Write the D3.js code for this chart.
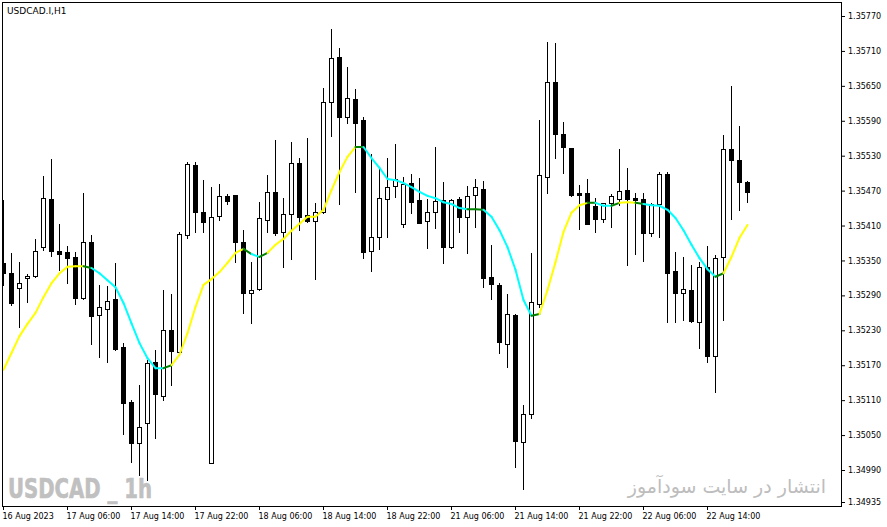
<!DOCTYPE html>
<html>
<head>
<meta charset="utf-8">
<script src="https://cdn.jsdelivr.net/npm/d3@7.9.0/dist/d3.min.js"></script>
<style>
  html, body { margin: 0; padding: 0; background: #fff; }
  svg { display: block; }
  .axis text { font-family: "DejaVu Sans", sans-serif; font-size: 8px; fill: #000; }
  .axis line { stroke: #000; }
</style>
</head>
<body>
<svg id="chart" width="887" height="527"></svg>
<script>
// H1 candles, 16 Aug 2023 22:00 -> 22 Aug 2023 19:00
const open = [
  1.35346,1.35328,1.35303,1.35320,1.35323,1.35373,1.35456,1.35366,1.35365,1.35356,
  1.35286,1.35382,1.35256,1.35267,1.35284,1.35201,1.35107,1.35036,1.35071,1.35176,
  1.35117,1.35230,1.35193,1.35394,1.35514,1.35433,1.35002,1.35426,1.35461,1.35462,
  1.35382,1.35294,1.35301,1.35420,1.35468,1.35399,1.35430,1.35517,1.35428,1.35418,
  1.35433,1.35622,1.35700,1.35597,1.35627,1.35591,1.35366,1.35390,1.35456,1.35478,
  1.35413,1.35483,1.35454,1.35418,1.35433,1.35454,1.35373,1.35456,1.35425,1.35462,
  1.35473,1.35322,1.35308,1.35206,1.35256,1.35038,1.35086,1.35275,1.35493,1.35657,
  1.35567,1.35543,1.35466,1.35466,1.35444,1.35421,1.35449,1.35456,1.35471,1.35457,
  1.35456,1.35397,1.35447,1.35499,1.35332,1.35294,1.35299,1.35244,1.35339,1.35186,
  1.35356,1.35542,1.35523,1.35485
];
const high = [
  1.35454,1.35363,1.35347,1.35327,1.35387,1.35495,1.35524,1.35413,1.35375,1.35365,
  1.35466,1.35394,1.35308,1.35306,1.35346,1.35208,1.35110,1.35136,1.35179,1.35196,
  1.35299,1.35292,1.35399,1.35519,1.35519,1.35488,1.35476,1.35481,1.35464,1.35462,
  1.35402,1.35347,1.35450,1.35497,1.35557,1.35457,1.35554,1.35526,1.35560,1.35449,
  1.35646,1.35748,1.35715,1.35682,1.35645,1.35597,1.35533,1.35511,1.35526,1.35550,
  1.35493,1.35499,1.35492,1.35456,1.35545,1.35485,1.35456,1.35459,1.35478,1.35490,
  1.35487,1.35377,1.35312,1.35292,1.35258,1.35102,1.35363,1.35591,1.35725,1.35724,
  1.35588,1.35543,1.35480,1.35490,1.35457,1.35449,1.35464,1.35542,1.35509,1.35466,
  1.35466,1.35449,1.35502,1.35502,1.35365,1.35356,1.35342,1.35347,1.35375,1.35359,
  1.35566,1.35650,1.35581,1.35487
];
const low = [
  1.35308,1.35273,1.35236,1.35279,1.35322,1.35368,1.35358,1.35334,1.35312,1.35275,
  1.35284,1.35206,1.35184,1.35176,1.35196,1.35052,1.35004,1.34981,1.34973,1.35045,
  1.35110,1.35136,1.35188,1.35389,1.35399,1.35399,1.35002,1.35420,1.35447,1.35347,
  1.35260,1.35242,1.35299,1.35399,1.35394,1.35339,1.35353,1.35402,1.35416,1.35318,
  1.35432,1.35564,1.35447,1.35586,1.35468,1.35354,1.35332,1.35370,1.35390,1.35459,
  1.35408,1.35432,1.35414,1.35371,1.35406,1.35346,1.35371,1.35399,1.35363,1.35408,
  1.35304,1.35284,1.35191,1.35167,1.34995,1.34957,1.35079,1.35270,1.35466,1.35526,
  1.35500,1.35461,1.35404,1.35413,1.35399,1.35416,1.35408,1.35445,1.35342,1.35361,
  1.35349,1.35392,1.35390,1.35244,1.35244,1.35248,1.35244,1.35200,1.35176,1.35124,
  1.35248,1.35421,1.35437,1.35450
];
const close = [
  1.35328,1.35277,1.35311,1.35323,1.35366,1.35457,1.35366,1.35361,1.35354,1.35286,
  1.35382,1.35255,1.35270,1.35280,1.35198,1.35105,1.35036,1.35064,1.35174,1.35121,
  1.35230,1.35194,1.35395,1.35516,1.35433,1.35416,1.35425,1.35461,1.35452,1.35382,
  1.35294,1.35299,1.35423,1.35468,1.35397,1.35430,1.35517,1.35425,1.35418,1.35433,
  1.35622,1.35698,1.35597,1.35629,1.35586,1.35365,1.35390,1.35457,1.35476,1.35490,
  1.35481,1.35450,1.35414,1.35433,1.35452,1.35373,1.35454,1.35425,1.35461,1.35476,
  1.35320,1.35310,1.35210,1.35258,1.35040,1.35086,1.35279,1.35497,1.35657,1.35567,
  1.35545,1.35462,1.35462,1.35413,1.35421,1.35449,1.35461,1.35469,1.35456,1.35454,
  1.35397,1.35447,1.35499,1.35328,1.35294,1.35301,1.35246,1.35339,1.35186,1.35354,
  1.35542,1.35523,1.35485,1.35468
];

// moving average line, and its colour state per segment (u = rising, d = falling, f = flat)
const ma = [
  1.35162,1.35191,1.35220,1.35241,1.35260,1.35287,1.35311,1.35328,1.35339,1.35340,
  1.35340,1.35337,1.35328,1.35316,1.35304,1.35277,1.35242,1.35208,1.35182,1.35165,
  1.35165,1.35170,1.35188,1.35225,1.35270,1.35308,1.35318,1.35330,1.35346,1.35363,
  1.35370,1.35361,1.35356,1.35363,1.35377,1.35387,1.35401,1.35413,1.35425,1.35425,
  1.35437,1.35471,1.35502,1.35528,1.35545,1.35545,1.35526,1.35509,1.35490,1.35488,
  1.35483,1.35476,1.35468,1.35461,1.35457,1.35450,1.35447,1.35440,1.35438,1.35438,
  1.35437,1.35425,1.35402,1.35373,1.35334,1.35282,1.35255,1.35258,1.35299,1.35347,
  1.35399,1.35432,1.35445,1.35449,1.35449,1.35444,1.35444,1.35449,1.35450,1.35449,
  1.35447,1.35445,1.35444,1.35437,1.35423,1.35402,1.35377,1.35354,1.35335,1.35322,
  1.35328,1.35356,1.35389,1.35411
];
const maTrend = ('uuuuuuuuuu' + 'f' + 'ddddddddd' + 'f' + 'uuuuuuuuu' + 'f' + 'd' + 'f' +
  'uuuuuuuuuuu' + 'f' + 'ddddddddddddd' + 'ff' + 'dddddd' + 'f' + 'uuuuuu' + 'f' +
  'dd' + 'f' + 'uu' + 'f' + 'ddddddddd' + 'f' + 'uuu').split('');
const trendColors = { u: '#ffff00', d: '#00ffff', f: '#008000' };

const xTickIdx = [0, 8, 16, 24, 32, 40, 48, 56, 64, 72, 80, 88];
const xTickLabels = ['16 Aug 2023', '17 Aug 06:00', '17 Aug 14:00', '17 Aug 22:00',
  '18 Aug 06:00', '18 Aug 14:00', '18 Aug 22:00', '21 Aug 06:00', '21 Aug 14:00',
  '21 Aug 22:00', '22 Aug 06:00', '22 Aug 14:00'];
const yTicks = [1.35770, 1.35710, 1.35650, 1.35590, 1.35530, 1.35470, 1.35410, 1.35350,
  1.35290, 1.35230, 1.35170, 1.35110, 1.35050, 1.34990, 1.34935];

const svg = d3.select('#chart');
const n = close.length;

const x = d3.scaleLinear().domain([0, n - 1]).range([3, 747]);
const y = d3.scaleLinear().domain([1.34990, 1.35770]).range([470, 16]);
const py = v => Math.round(y(v));

svg.append('rect').attr('width', 887).attr('height', 527).attr('fill', '#fff');

// watermarks
svg.append('text')
  .attr('x', 8).attr('y', 498)
  .attr('font-family', '"DejaVu Sans Condensed", "Liberation Sans Narrow", "Liberation Sans", sans-serif')
  .attr('font-weight', 'bold').attr('font-size', 27)
  .attr('textLength', 144).attr('lengthAdjust', 'spacingAndGlyphs')
  .attr('fill', '#c0c0c0').attr('stroke', '#c0c0c0').attr('stroke-width', 0.6)
  .text('USDCAD _ 1h');

svg.append('text')
  .attr('x', 826).attr('y', 493)
  .attr('text-anchor', 'end')
  .attr('font-family', '"DejaVu Sans", sans-serif')
  .attr('font-size', 19)
  .attr('fill', '#bdbdbd')
  .text('انتشار در سایت سودآموز');

svg.append('clipPath').attr('id', 'plotclip')
  .append('rect').attr('x', 3).attr('y', 3).attr('width', 838).attr('height', 503);

const plot = svg.append('g').attr('clip-path', 'url(#plotclip)');

// wicks
plot.selectAll('line.wick')
  .data(d3.range(n))
  .join('line')
  .attr('class', 'wick')
  .attr('x1', i => x(i) + 0.5).attr('x2', i => x(i) + 0.5)
  .attr('y1', i => py(high[i])).attr('y2', i => py(low[i]) + 1)
  .attr('stroke', '#000').attr('stroke-width', 1);

// bodies
plot.selectAll('rect.body')
  .data(d3.range(n))
  .join('rect')
  .attr('class', 'body')
  .each(function (i) {
    const up = close[i] >= open[i];
    const top = py(Math.max(open[i], close[i]));
    const bot = py(Math.min(open[i], close[i]));
    const r = d3.select(this);
    if (up) {
      r.attr('x', x(i) - 1.5).attr('width', 4)
        .attr('y', top + 0.5).attr('height', Math.max(1, bot - top))
        .attr('fill', '#fff').attr('stroke', '#000').attr('stroke-width', 1);
    } else {
      r.attr('x', x(i) - 2).attr('width', 5)
        .attr('y', top).attr('height', Math.max(1, bot - top + 1))
        .attr('fill', '#000');
    }
  });

// moving average, coloured per segment
const maLine = d3.line().x(i => x(i) + 0.5).y(i => y(ma[i]));
plot.selectAll('path.ma')
  .data(d3.range(n - 1))
  .join('path')
  .attr('class', 'ma')
  .attr('d', i => maLine([i, i + 1]))
  .attr('fill', 'none')
  .attr('stroke', i => trendColors[maTrend[i]])
  .attr('stroke-width', 2)
  .attr('stroke-linecap', 'round');

// frame
svg.append('rect')
  .attr('x', 2.5).attr('y', 2.5).attr('width', 839).attr('height', 504)
  .attr('fill', 'none').attr('stroke', '#000').attr('stroke-width', 1);

// price axis
svg.append('g')
  .attr('class', 'axis')
  .attr('transform', 'translate(841,0)')
  .call(d3.axisRight(y).tickValues(yTicks).tickSize(4).tickFormat(d3.format('.5f')))
  .call(g => g.select('.domain').remove());

// time axis
svg.append('g')
  .attr('class', 'axis')
  .attr('transform', 'translate(0,506)')
  .call(d3.axisBottom(x).tickValues(xTickIdx).tickSize(4).tickFormat((d, k) => xTickLabels[k]))
  .call(g => g.select('.domain').remove())
  .call(g => g.selectAll('text').attr('text-anchor', 'start').attr('x', -1));

// symbol title
svg.append('text')
  .attr('x', 7).attr('y', 14)
  .attr('font-family', '"DejaVu Sans", sans-serif')
  .attr('font-size', 9)
  .attr('fill', '#000')
  .text('USDCAD.I,H1');
</script>
</body>
</html>
